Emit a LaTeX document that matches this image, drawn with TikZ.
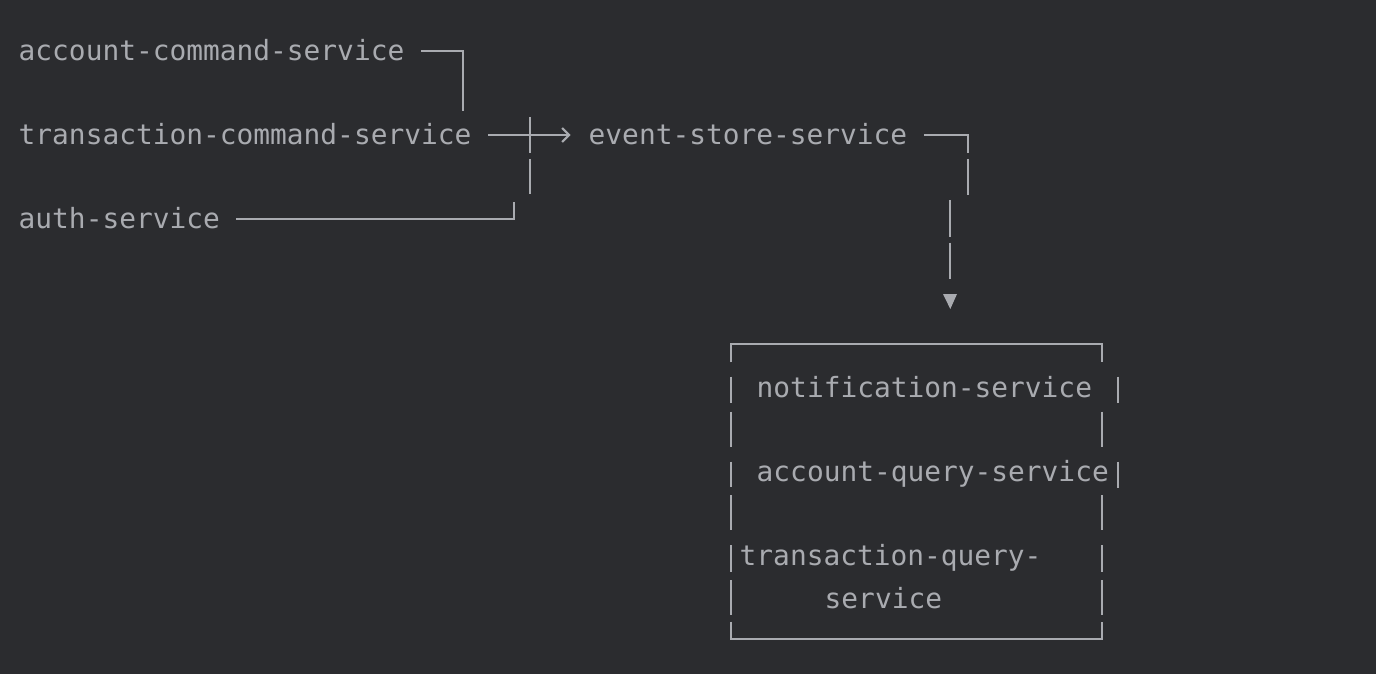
\documentclass[tikz,border=0pt]{standalone}
\usepackage{fontspec}
\setmonofont{DejaVu Sans Mono}
\usetikzlibrary{arrows.meta}
\definecolor{bg}{HTML}{2B2C2F}
\definecolor{fg}{HTML}{A9ABB0}
\begin{document}
\begin{tikzpicture}[x=1pt,y=-1pt,
  lbl/.style={font=\fontsize{27.85}{42.5}\selectfont\ttfamily, text=fg, inner sep=0pt,
              anchor=west, text height=22pt, text depth=3pt},
  ln/.style={draw=fg, line width=2.1pt},
  tip/.style={-{Straight Barb[length=7pt,width=14pt]}}
]
\fill[bg] (0,0) rectangle (1376,674);
\useasboundingbox (0,0) rectangle (1376,674);

% labels
\node[lbl] (acs)  at (18.5,51)  {account-command-service};
\node[lbl] (tcs)  at (18.5,135) {transaction-command-service};
\node[lbl] (auth) at (18.5,219) {auth-service};
\node[lbl] (ess)  at (588.5,135)  {event-store-service};
\node[lbl] (notif) at (756.5,388) {notification-service};
\node[lbl] (aqs)  at (756.5,472)  {account-query-service};
\node[lbl] (tqs)  at (739.5,556)  {transaction-query-};
\node[lbl] (tqs2) at (824.5,599)  {service};

% free ends of connectors
\coordinate (c1) at (463,110.7);
\coordinate (x1) at (530,117);
\coordinate (x2) at (530,152.7);
\coordinate (x3) at (530,159);
\coordinate (x4) at (530,194);
\coordinate (a1) at (514,201.7);
\coordinate (e1) at (967.7,152.7);
\coordinate (e2) at (967.7,159);
\coordinate (e3) at (967.7,195);
\coordinate (e4) at (950.3,200);
\coordinate (e5) at (950.3,236.7);
\coordinate (e6) at (950.3,242.7);
\coordinate (e7) at (950.3,279);

% connectors
\draw[ln] ([xshift=16.5pt]acs.east) -| (c1);
\draw[ln,tip,shorten >=18pt] ([xshift=16.5pt]tcs.east) -- (ess.west);
\draw[ln] (x1) -- (x2) (x3) -- (x4);
\draw[ln] ([xshift=16pt]auth.east) -| (a1);
\draw[ln] ([xshift=16.5pt]ess.east) -| (e1);
\draw[ln] (e2) -- (e3) (e4) -- (e5) (e6) -- (e7);
\fill[fg] (943,294) -- (957,294) -- (950.3,309) -- cycle;

% box
\draw[ln] (731,362.3) -- (731,344) -- (1102.3,344) -- (1102.3,362.3);
\draw[ln] (731,621.7) -- (731,639.3) -- (1102.3,639.3) -- (1102.3,621.7);
\draw[ln] (731,376.7) -- (731,403.3) (731,411.7) -- (731,446.7)
          (731,461.7) -- (731,486.7) (731,495) -- (731,530)
          (731,545) -- (731,571.7) (731,580) -- (731,615);
\draw[ln] (1118,376.7) -- (1118,403.3) (1102.3,411.7) -- (1102.3,446.7)
          (1118,461.7) -- (1118,487.7) (1102.3,495) -- (1102.3,530)
          (1102.3,545) -- (1102.3,571.7) (1102.3,580) -- (1102.3,615);
\end{tikzpicture}
\end{document}
